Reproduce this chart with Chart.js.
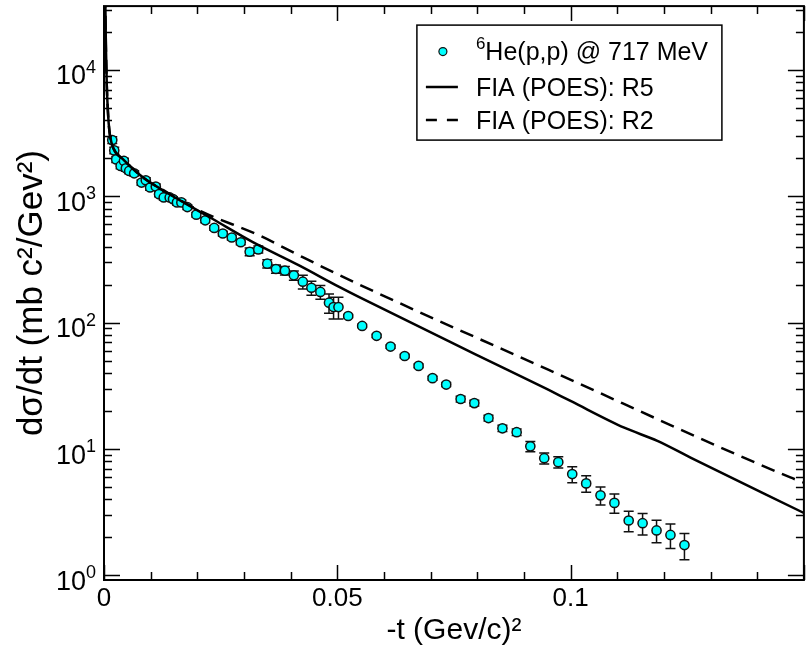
<!DOCTYPE html>
<html><head><meta charset="utf-8">
<script src="https://cdn.jsdelivr.net/npm/chart.js@4/dist/chart.umd.min.js"></script>
<style>html,body{margin:0;padding:0;background:#fff}#wrap{width:810px;height:663px}</style>
</head><body><div id="wrap"><canvas id="c" width="810" height="663"></canvas></div>
<script>
// ---- data ----
const seriesLabels = ['\u2076He(p,p) @ 717 MeV', 'FIA (POES): R5', 'FIA (POES): R2'];

const tData = [0.00177,0.0022,0.00262,0.00356,0.00427,0.00469,0.0054,0.00647,0.00804,0.00896,
  0.00988,0.0111,0.0118,0.0128,0.01408,0.01479,0.01564,0.01658,0.01786,0.01978,
  0.0217,0.02362,0.02546,0.02738,0.0293,0.03122,0.03307,0.03499,0.03685,0.03877,
  0.04069,0.04261,0.04445,0.04637,0.04822,0.0492,0.05025,0.05234,0.05533,0.05842,
  0.06141,0.06444,0.06742,0.07041,0.07334,0.07643,0.07937,0.0824,0.08539,0.08844,
  0.09137,0.09435,0.09736,0.10035,0.10334,0.10641,0.10939,0.11245,0.11543,0.11842,
  0.1214,0.1244];
const dsdtData = [2785,2307,1960,1739,1904,1665,1588,1521,1285,1340,
  1174,1195,1040,979,979,950,895,895,822,716,
  646,562,508,472,433,364,380,293,266,258,
  237,211,189,175,144,133,133,112.9,94.2,78.7,
  64.7,54.5,45.5,36.4,32.4,24.9,23.1,17.6,14.6,13.6,
  10.5,8.47,7.88,6.34,5.35,4.30,3.75,2.72,2.59,2.27,
  2.09,1.74];
const dsdtErr = [170,140,110,90,100,85,80,75,60,65,
  55,55,48,45,45,42,40,40,36,30,
  27,24,22,20,19,26,24,22,20,20,
  20,26,24,22,25,26,26,3.4,2.8,2.4,
  2.0,1.7,1.5,1.3,1.2,1.3,1.2,0.9,0.8,0.8,
  1.0,0.85,0.8,0.92,0.8,0.7,0.65,0.5,0.5,0.46,
  0.46,0.41];

const tR5 = [0.0002,0.0004,0.0006,0.0008,0.001,0.0013,0.002,0.0041,0.0084,0.0134,
  0.0177,0.0233,0.0319,0.0418,0.0504,0.0546,0.0795,0.0952,0.1001,0.1115,0.1186,0.1257,0.15];
const dsdtR5 = [60000,16000,7500,5000,3800,3000,2400,1960,1407,1072,
  867,661,434,284,192,160,56.5,29.5,23.9,14.75,11.6,8.56,3.12];

const tR2 = [0.0002,0.0004,0.0006,0.0008,0.001,0.0013,0.002,0.0041,0.0084,0.0134,
  0.0205,0.0333,0.0418,0.054,0.0952,0.1471,0.15];
const dsdtR2 = [60000,16000,7500,5000,3800,3000,2400,1960,1407,1080,
  770,490,341,206,42.5,5.96,5.42];

const xTickValues = [0, 0.05, 0.1];
const xTickLabels = ['0', '0.05', '0.1'];
const yTickValues = [1, 10, 100, 1000, 10000];
const yTickLabels = ['10\u2070', '10\u00b9', '10\u00b2', '10\u00b3', '10\u2074'];
const xTitle = '-t (Gev/c)\u00b2';
const yTitle = 'd\u03c3/dt (mb c\u00b2/Gev\u00b2)';

// ---- helpers ----
const FONT = '"Liberation Sans", Arial, Helvetica, sans-serif';
const SUP = {'\u2070':'0','\u00b9':'1','\u00b2':'2','\u00b3':'3','\u2074':'4','\u2075':'5','\u2076':'6','\u2077':'7','\u2078':'8','\u2079':'9'};
function richWidth(ctx, text, size) {
  let w = 0;
  for (const ch of text) {
    ctx.font = (SUP[ch] ? Math.round(size*0.66) : size) + 'px ' + FONT;
    w += ctx.measureText(SUP[ch] || ch).width;
  }
  return w;
}
function drawRich(ctx, text, x, y, size) {
  let cx = x;
  for (const ch of text) {
    if (SUP[ch]) {
      ctx.font = Math.round(size*0.66) + 'px ' + FONT;
      ctx.fillText(SUP[ch], cx, y - size*0.43);
      cx += ctx.measureText(SUP[ch]).width;
    } else {
      ctx.font = size + 'px ' + FONT;
      ctx.fillText(ch, cx, y);
      cx += ctx.measureText(ch).width;
    }
  }
}

const errorBars = {
  id: 'errorBars',
  beforeDatasetsDraw(chart) {
    const {ctx, chartArea: a, scales: {x, y}} = chart;
    ctx.save();
    ctx.beginPath(); ctx.rect(a.left, a.top, a.right - a.left, a.bottom - a.top); ctx.clip();
    ctx.strokeStyle = '#111'; ctx.lineWidth = 1.5;
    ctx.beginPath();
    tData.forEach((t, i) => {
      const px = x.getPixelForValue(t);
      const y1 = y.getPixelForValue(dsdtData[i] + dsdtErr[i]);
      const y0 = y.getPixelForValue(Math.max(dsdtData[i] - dsdtErr[i], 0.01));
      ctx.moveTo(px, y1); ctx.lineTo(px, y0);
      ctx.moveTo(px - 5, y1); ctx.lineTo(px + 5, y1);
      ctx.moveTo(px - 5, y0); ctx.lineTo(px + 5, y0);
    });
    ctx.stroke();
    ctx.restore();
  }
};

const frameTicks = {
  id: 'frameTicks',
  afterDatasetsDraw(chart) {
    const {ctx, chartArea: a, scales: {x, y}} = chart;
    ctx.save();
    ctx.strokeStyle = '#000';
    ctx.lineWidth = 1.5;
    ctx.beginPath();
    for (let k = 0; k <= 15; k++) {
      const v = k / 100;
      const px = Math.round(x.getPixelForValue(v)) + 0.5;
      const L = (k % 5 === 0) ? 15 : 8;
      ctx.moveTo(px, a.bottom); ctx.lineTo(px, a.bottom - L);
      ctx.moveTo(px, a.top); ctx.lineTo(px, a.top + L);
    }
    for (let d = -1; d <= 4; d++) {
      for (let m = 1; m <= 9; m++) {
        const v = m * Math.pow(10, d);
        if (v < y.min || v > y.max) continue;
        const py = Math.round(y.getPixelForValue(v)) + 0.5;
        const L = (m === 1) ? 16 : 8;
        ctx.moveTo(a.left, py); ctx.lineTo(a.left + L, py);
        ctx.moveTo(a.right, py); ctx.lineTo(a.right - L, py);
      }
    }
    ctx.stroke();
    ctx.lineWidth = 2;
    ctx.strokeRect(a.left, a.top, a.right - a.left, a.bottom - a.top);
    // y tick labels with superscript exponents
    ctx.fillStyle = '#000';
    ctx.textBaseline = 'alphabetic';
    yTickValues.forEach((v, i) => {
      const py = y.getPixelForValue(v);
      const w = richWidth(ctx, yTickLabels[i], 27);
      drawRich(ctx, yTickLabels[i], a.left - 8 - w, py + 14.5, 27);
    });
    ctx.restore();
  }
};

const boxLegend = {
  id: 'boxLegend',
  afterDraw(chart) {
    const {ctx, chartArea: a} = chart;
    const bx = a.right - 387, by = a.top + 19, bw = 305, bh = 115;
    ctx.save();
    ctx.fillStyle = '#fff';
    ctx.fillRect(bx, by, bw, bh);
    ctx.strokeStyle = '#000'; ctx.lineWidth = 1.5;
    ctx.strokeRect(bx, by, bw, bh);
    const rows = [by + 35, by + 71, by + 104];
    const ds = chart.data.datasets;
    ctx.textBaseline = 'alphabetic';
    ctx.beginPath();
    ctx.arc(bx + 26, rows[0] - 8.5, 4, 0, Math.PI * 2);
    ctx.fillStyle = ds[0].pointBackgroundColor; ctx.fill();
    ctx.lineWidth = 1.2; ctx.strokeStyle = '#111'; ctx.stroke();
    ctx.strokeStyle = '#000'; ctx.lineWidth = 2.5;
    ctx.beginPath(); ctx.moveTo(bx + 9, rows[1] - 9); ctx.lineTo(bx + 41, rows[1] - 9); ctx.stroke();
    ctx.setLineDash([11, 10]);
    ctx.beginPath(); ctx.moveTo(bx + 9, rows[2] - 9); ctx.lineTo(bx + 41, rows[2] - 9); ctx.stroke();
    ctx.setLineDash([]);
    ctx.fillStyle = '#000';
    ds.forEach((d, i) => drawRich(ctx, d.label, bx + 59, rows[i], 25));
    ctx.restore();
  }
};

const ptsR5 = tR5.map((t, i) => ({x: t, y: dsdtR5[i]}));
const ptsR2 = tR2.map((t, i) => ({x: t, y: dsdtR2[i]}));
const ptsData = tData.map((t, i) => ({x: t, y: dsdtData[i]}));

new Chart(document.getElementById('c'), {
  type: 'scatter',
  data: {
    datasets: [
      {label: seriesLabels[0], data: ptsData, order: 3, showLine: false,
       pointRadius: 4.6, pointHoverRadius: 4.6, pointBackgroundColor: '#00ffff',
       pointBorderColor: '#111', pointBorderWidth: 1.5},
      {label: seriesLabels[1], data: ptsR5, order: 1, showLine: true, pointRadius: 0,
       borderColor: '#000', borderWidth: 2.5, cubicInterpolationMode: 'monotone'},
      {label: seriesLabels[2], data: ptsR2, order: 2, showLine: true, pointRadius: 0,
       borderColor: '#000', borderWidth: 2.5, borderDash: [14, 8], cubicInterpolationMode: 'monotone'}
    ]
  },
  options: {
    responsive: false, animation: false, devicePixelRatio: 1,
    layout: {padding: {top: 3, right: 4, left: 0, bottom: 0}},
    plugins: {legend: {display: false}, tooltip: {enabled: false}},
    scales: {
      x: {
        type: 'linear', min: 0, max: 0.15,
        grid: {display: false, drawTicks: false},
        border: {display: false},
        afterBuildTicks: s => { s.ticks = xTickValues.map(v => ({value: v})); },
        afterFit: s => { s.height = 83; s.paddingLeft = 0; s.paddingRight = 0; },
        ticks: {autoSkip: false, maxRotation: 0, padding: 3, color: '#000',
          font: {family: FONT, size: 26},
          callback: v => { const i = xTickValues.indexOf(v); return i >= 0 ? xTickLabels[i] : ''; }},
        title: {display: true, text: xTitle, color: '#000', padding: {top: 0, bottom: 14},
          font: {family: FONT, size: 30}}
      },
      y: {
        type: 'logarithmic', min: 0.92, max: 32000,
        grid: {display: false, drawTicks: false},
        border: {display: false},
        afterBuildTicks: s => { s.ticks = yTickValues.map(v => ({value: v})); },
        afterFit: s => { s.width = 104; s.paddingTop = 0; s.paddingBottom = 0; },
        ticks: {display: false},
        title: {display: true, text: yTitle, color: '#000', padding: {top: 11, bottom: 0},
          font: {family: FONT, size: 35}}
      }
    }
  },
  plugins: [errorBars, frameTicks, boxLegend]
});
</script></body></html>
